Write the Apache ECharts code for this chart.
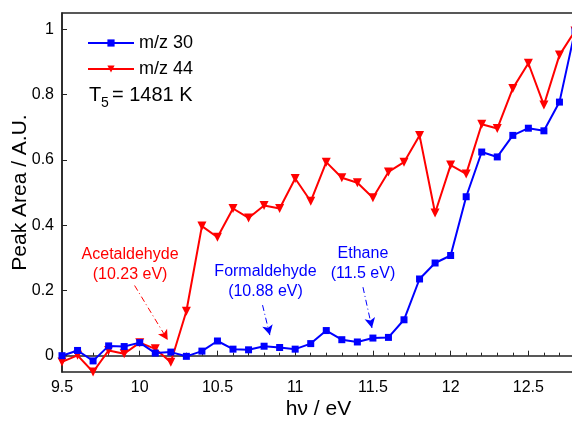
<!DOCTYPE html>
<html><head><meta charset="utf-8">
<script src="https://cdn.jsdelivr.net/npm/echarts@6/dist/echarts.min.js"></script>
<style>html,body{margin:0;padding:0;background:#fff}#c{width:572px;height:425px}</style>
</head><body><div id="c"></div>
<script>
var energies = [9.5,9.6,9.7,9.8,9.9,10.0,10.1,10.2,10.3,10.4,10.5,10.6,10.7,10.8,10.9,11.0,11.1,11.2,11.3,11.4,11.5,11.6,11.7,11.8,11.9,12.0,12.1,12.2,12.3,12.4,12.5,12.6,12.7,12.8];
var mz30 = [0.0,0.016,-0.016,0.030,0.028,0.040,0.008,0.011,-0.002,0.014,0.045,0.020,0.018,0.029,0.025,0.020,0.037,0.077,0.049,0.042,0.054,0.056,0.110,0.235,0.284,0.307,0.487,0.624,0.609,0.675,0.697,0.689,0.777,0.995];
var mz44 = [-0.019,0.001,-0.05,0.016,0.006,0.040,0.021,-0.020,0.136,0.397,0.363,0.451,0.422,0.460,0.451,0.543,0.473,0.593,0.545,0.530,0.484,0.563,0.593,0.675,0.437,0.584,0.557,0.709,0.696,0.819,0.896,0.768,0.921,0.995];
var yTicks = [0,0.2,0.4,0.6,0.8,1];
var seriesNames = ['m/z 30','m/z 44'];
var notes = [
  {text:'Acetaldehyde\n(10.23 eV)', at:[9.938,0.28], from:[9.967,0.215], to:[10.18,0.048], series:1},
  {text:'Formaldehyde\n(10.88 eV)', at:[10.809,0.227], from:[10.79,0.155], to:[10.837,0.063], series:0},
  {text:'Ethane\n(11.5 eV)', at:[11.436,0.282], from:[11.436,0.21], to:[11.494,0.085], series:0}
];
var FONT = 'Liberation Sans, Arial, sans-serif';
function pairs(v){ return energies.map(function(e,i){return [e,v[i]];}); }
function notesFor(s){ return notes.filter(function(n){return n.series===s;}); }
function markLineFor(s){
  return {silent:true, symbol:['none','arrow'], symbolSize:[8,10], animation:false,
    label:{show:false},
    lineStyle:{type:[6,3,1,3], width:1, color: s===0?'#0000ff':'#ff0000'},
    data: notesFor(s).map(function(n){return [{coord:n.from},{coord:n.to}];})};
}
function markPointFor(s){
  return {silent:true, symbol:'circle', symbolSize:1, itemStyle:{color:'rgba(0,0,0,0)'}, animation:false,
    label:{show:true, position:'inside', formatter:function(p){return p.name;}, fontSize:16, lineHeight:20, fontFamily:FONT, color: s===0?'#0000ff':'#ff0000', align:'center', verticalAlign:'middle'},
    data: notesFor(s).map(function(n){return {name:n.text, coord:n.at};})};
}
var chart = echarts.init(document.getElementById('c'), null, {renderer:'canvas'});
chart.setOption({
  animation:false,
  backgroundColor:'#fff',
  grid:{left:62, top:13, bottom:53, right:-3, containLabel:false, outerBoundsMode:'none', show:true, borderColor:'#222', borderWidth:1.5},
  legend:{orient:'vertical', left:82, top:29, itemWidth:46, itemHeight:9, itemGap:8,
    textStyle:{fontSize:18, color:'#000', fontFamily:FONT}, data:seriesNames},
  xAxis:{type:'value', min:9.5, max:12.8, interval:0.5,
    name:'hν / eV', nameLocation:'middle', nameGap:27, nameMoveOverlap:false, nameTextStyle:{fontSize:21, color:'#000', fontFamily:FONT},
    axisLine:{lineStyle:{color:'#222', width:1.5}},
    axisTick:{inside:true, length:5, lineStyle:{color:'#222'}},
    minorTick:{show:true, splitNumber:5, length:3, lineStyle:{color:'#222'}},
    axisLabel:{fontSize:16, color:'#000', fontFamily:FONT, margin:8, showMaxLabel:false},
    splitLine:{show:false}},
  yAxis:{type:'value', min:-0.05, max:1.05,
    name:'Peak Area / A.U.', nameLocation:'middle', nameGap:31, nameMoveOverlap:false, nameTextStyle:{fontSize:21, color:'#000', fontFamily:FONT},
    axisLine:{show:true, lineStyle:{color:'#222', width:1.5}},
    axisTick:{show:true, inside:true, length:5, customValues:yTicks, lineStyle:{color:'#222'}},
    axisLabel:{fontSize:16, color:'#000', fontFamily:FONT, margin:8, customValues:yTicks},
    splitLine:{show:false}},
  series:[
    {name:seriesNames[0], type:'line', data:pairs(mz30), color:'#0000ff', lineStyle:{width:2},
     symbol:'rect', symbolSize:7, z:3, markLine:markLineFor(0), markPoint:markPointFor(0)},
    {name:seriesNames[1], type:'line', data:pairs(mz44), color:'#ff0000', lineStyle:{width:2},
     symbol:'triangle', symbolRotate:180, symbolSize:9, z:2, markLine:markLineFor(1), markPoint:markPointFor(1)}
  ],
  graphic:[
    {type:'text', left:89, top:85, style:{text:'T', fontSize:20, fill:'#000', fontFamily:FONT}},
    {type:'text', left:101, top:96, style:{text:'5', fontSize:14, fill:'#000', fontFamily:FONT}},
    {type:'text', left:112, top:85, style:{text:'= 1481 K', fontSize:20, fill:'#000', fontFamily:FONT}}
  ]
});
</script></body></html>
